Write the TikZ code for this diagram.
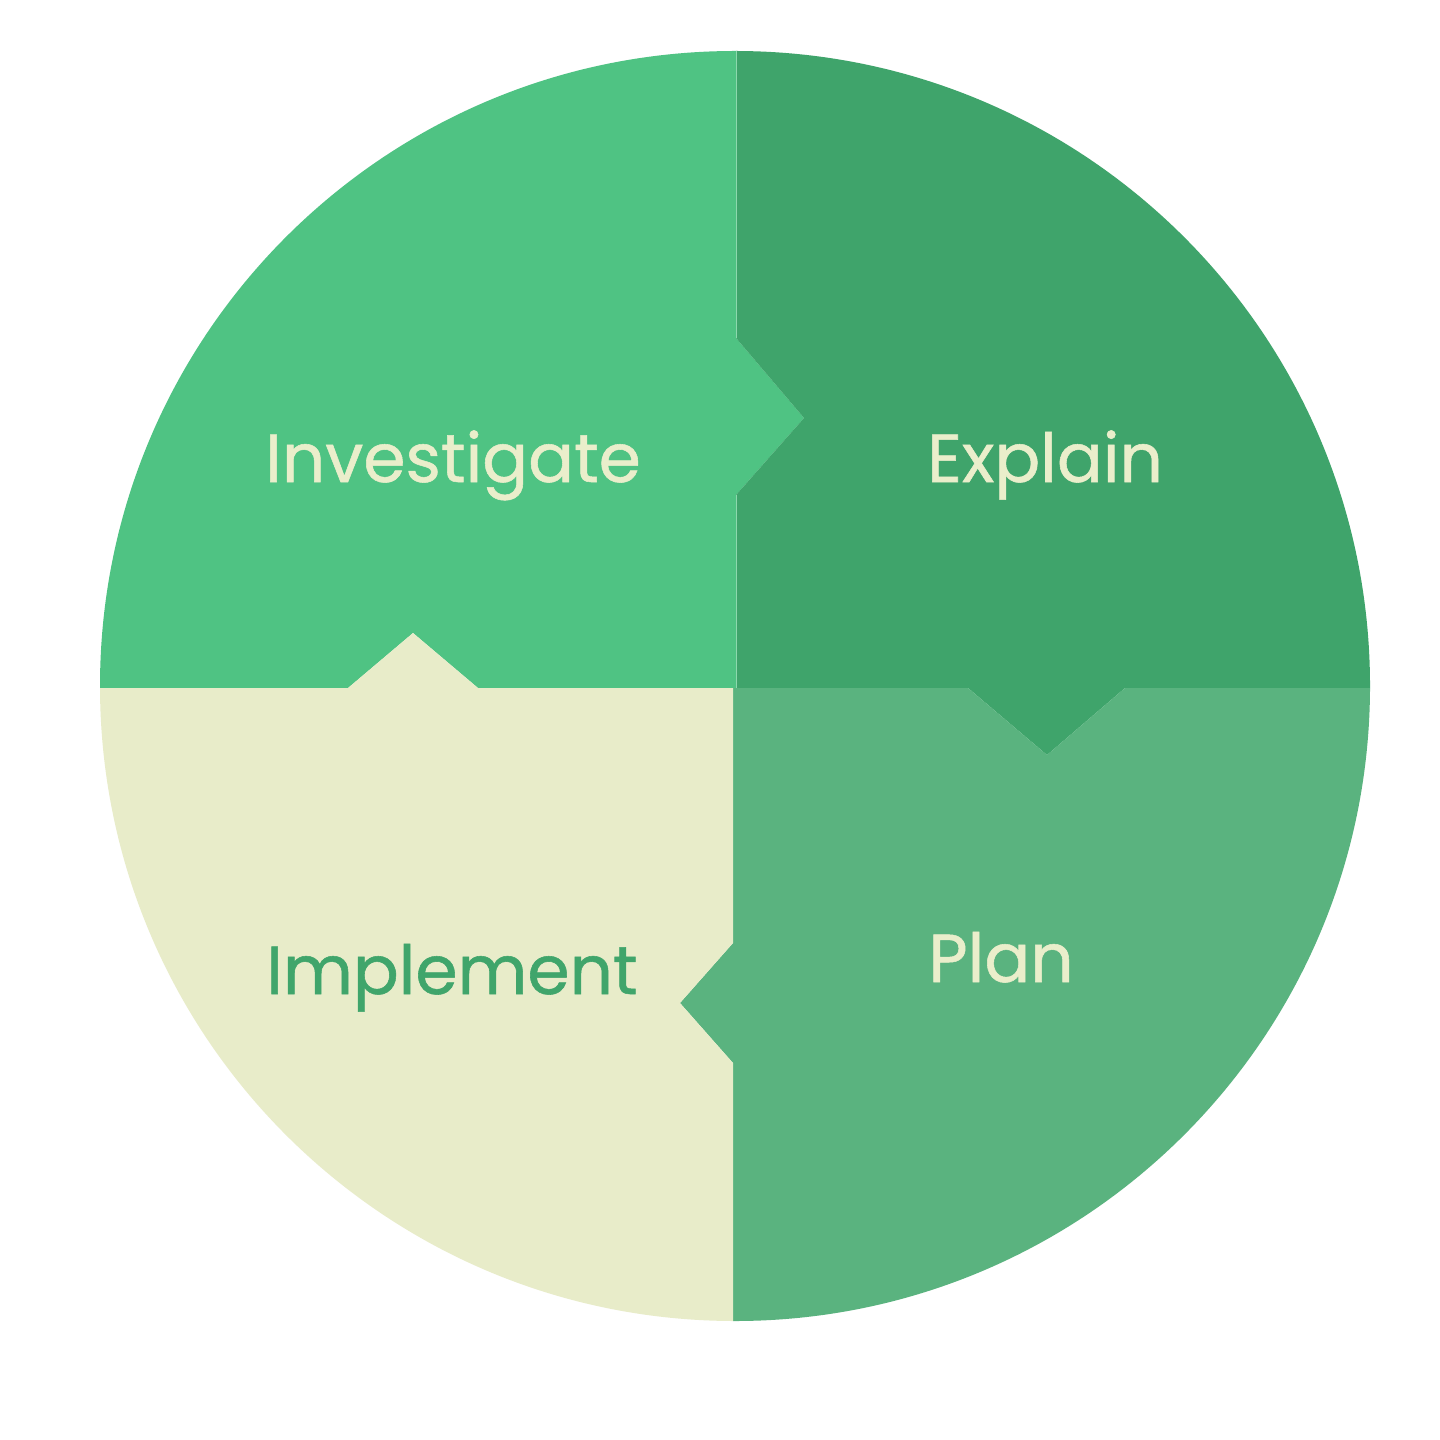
\documentclass[tikz,border=0pt]{standalone}
\usepackage{fontspec}
\setmainfont{Poppins}
\newfontfamily\labelfont{Poppins}[FakeBold=0.8]
\usepackage{tikz}
\usetikzlibrary{positioning}
\definecolor{investbg}{HTML}{4FC383}
\definecolor{explainbg}{HTML}{3FA46B}
\definecolor{planbg}{HTML}{5AB37F}
\definecolor{implbg}{HTML}{E8ECC9}
\definecolor{creamtxt}{HTML}{EAEECB}
\definecolor{greentxt}{HTML}{40A56B}
\begin{document}
\begin{tikzpicture}[x=0.01cm, y=-0.01cm,
  lbl/.style={anchor=base, font=\labelfont\fontsize{19.3}{23}\selectfont, inner sep=0pt},
  seam/.style={draw=white!35!investbg, line width=0.35pt}]
\useasboundingbox[fill=white] (0,0) rectangle (1440,1440);
\begin{scope}
\clip (735,686) circle[radius=635];
% the four quarters, each with its notch
\fill[investbg] (0,0) -- (736,0) -- (736,338) -- (804,418) -- (736,495) -- (736,688) -- (478,688) -- (413,633) -- (348,688) -- (0,688) -- cycle;
\fill[explainbg] (736,0) -- (1440,0) -- (1440,688) -- (1125,688) -- (1047,755) -- (968,688) -- (736,688) -- (736,495) -- (804,418) -- (736,338) -- cycle;
\fill[planbg] (733,688) -- (968,688) -- (1047,755) -- (1125,688) -- (1440,688) -- (1440,1440) -- (733,1440) -- (733,1063) -- (680,1003) -- (733,943) -- cycle;
\fill[implbg] (0,688) -- (348,688) -- (413,633) -- (478,688) -- (733,688) -- (733,943) -- (680,1003) -- (733,1063) -- (733,1440) -- (0,1440) -- cycle;
\draw[seam] (736.5,0) -- (736.5,338) (736.5,495) -- (736.5,688);
\end{scope}
\node[lbl, text=creamtxt] (invest) at (453,482) {Investigate};
\node[lbl, text=creamtxt] (explain) at (1045,482) {Explain};
\node[lbl, text=greentxt] (impl) at (452,994) {Implement};
\node[lbl, text=creamtxt] (plan) at (1001,982) {Plan};
\end{tikzpicture}
\end{document}
